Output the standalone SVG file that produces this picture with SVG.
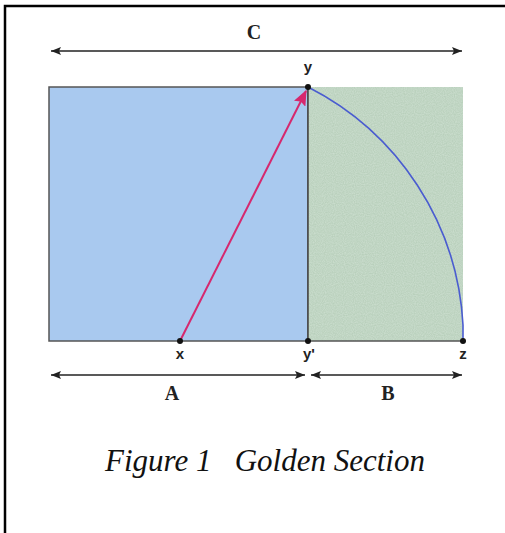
<svg xmlns="http://www.w3.org/2000/svg" width="505" height="533" viewBox="0 0 505 533">
<style>
.pt{font-family:"Liberation Sans",Arial,sans-serif;font-weight:bold;font-size:15px;fill:#222;text-anchor:middle}
.big{font-family:"Liberation Serif","Times New Roman",serif;font-weight:bold;font-size:20px;fill:#222;text-anchor:middle}
.dim{stroke:#222;stroke-width:1.6;fill:none}
.cap{font-family:"Liberation Serif","Times New Roman",serif;font-style:italic;font-size:31px;fill:#111}
</style>
<defs>
<marker id="ah" viewBox="0 0 10 8" refX="10" refY="4" markerWidth="11" markerHeight="8" markerUnits="userSpaceOnUse" orient="auto-start-reverse">
<path d="M0,0 L10,4 L0,8 L2,4 Z" fill="#222"/>
</marker>
<marker id="mh" viewBox="0 0 12 10" refX="11" refY="5" markerWidth="16" markerHeight="13" markerUnits="userSpaceOnUse" orient="auto">
<path d="M0,0 L12,5 L0,10 L2,5 Z" fill="#d6286e"/>
</marker>
<filter id="grain" x="0" y="0" width="1" height="1">
<feTurbulence type="fractalNoise" baseFrequency="0.9" numOctaves="1" seed="3" result="n"/>
<feColorMatrix in="n" type="matrix" values="0 0 0 0 0.66  0 0 0 0 0.78  0 0 0 0 0.68  0 0 0 -1.5 1.2" result="c"/>
<feComposite in="c" in2="SourceGraphic" operator="in"/>
</filter>
</defs>
<rect x="0" y="0" width="505" height="533" fill="#fff"/>
<path d="M5,540 L5,6 L510,6" fill="none" stroke="#000" stroke-width="2.5"/>
<g id="square">
<rect x="49" y="87" width="259" height="254" fill="#a9c9ef" stroke="#555" stroke-width="1.5"/>
</g>
<g id="golden-rect">
<rect x="308" y="87" width="155" height="254" fill="#b8cfbb"/>
<rect x="308" y="87" width="155" height="254" fill="#b8cfbb" filter="url(#grain)" opacity="0.7"/>
<line x1="308" y1="341" x2="463" y2="341" stroke="#555" stroke-width="1.5"/>
<line x1="308" y1="87" x2="308" y2="341" stroke="#444" stroke-width="1.5"/>
</g>
<g id="connectors">
<path d="M308,87 A284,284 0 0 1 463,325 L463,341" fill="none" stroke="#4a5cd0" stroke-width="1.6"/>
<line x1="180" y1="341" x2="306" y2="91" stroke="#d6286e" stroke-width="2" marker-end="url(#mh)"/>
<line class="dim" x1="51" y1="51" x2="462" y2="51" marker-start="url(#ah)" marker-end="url(#ah)"/>
<line class="dim" x1="51" y1="375" x2="305" y2="375" marker-start="url(#ah)" marker-end="url(#ah)"/>
<line class="dim" x1="311" y1="375" x2="462" y2="375" marker-start="url(#ah)" marker-end="url(#ah)"/>
</g>
<g id="points" fill="#111">
<circle cx="308" cy="87" r="3"/>
<circle cx="180" cy="341" r="3"/>
<circle cx="308" cy="341" r="3"/>
<circle cx="463" cy="341" r="3"/>
</g>
<g id="labels">
<text class="big" x="254" y="39">C</text>
<text class="pt" x="308" y="72">y</text>
<text class="pt" x="180" y="359">x</text>
<text class="pt" x="309" y="359">y'</text>
<text class="pt" x="463" y="359">z</text>
<text class="big" x="172" y="400">A</text>
<text class="big" x="388" y="400">B</text>
</g>
<g id="caption">
<text class="cap" x="265" y="471" text-anchor="middle" xml:space="preserve">Figure 1   Golden Section</text>
</g>
</svg>
